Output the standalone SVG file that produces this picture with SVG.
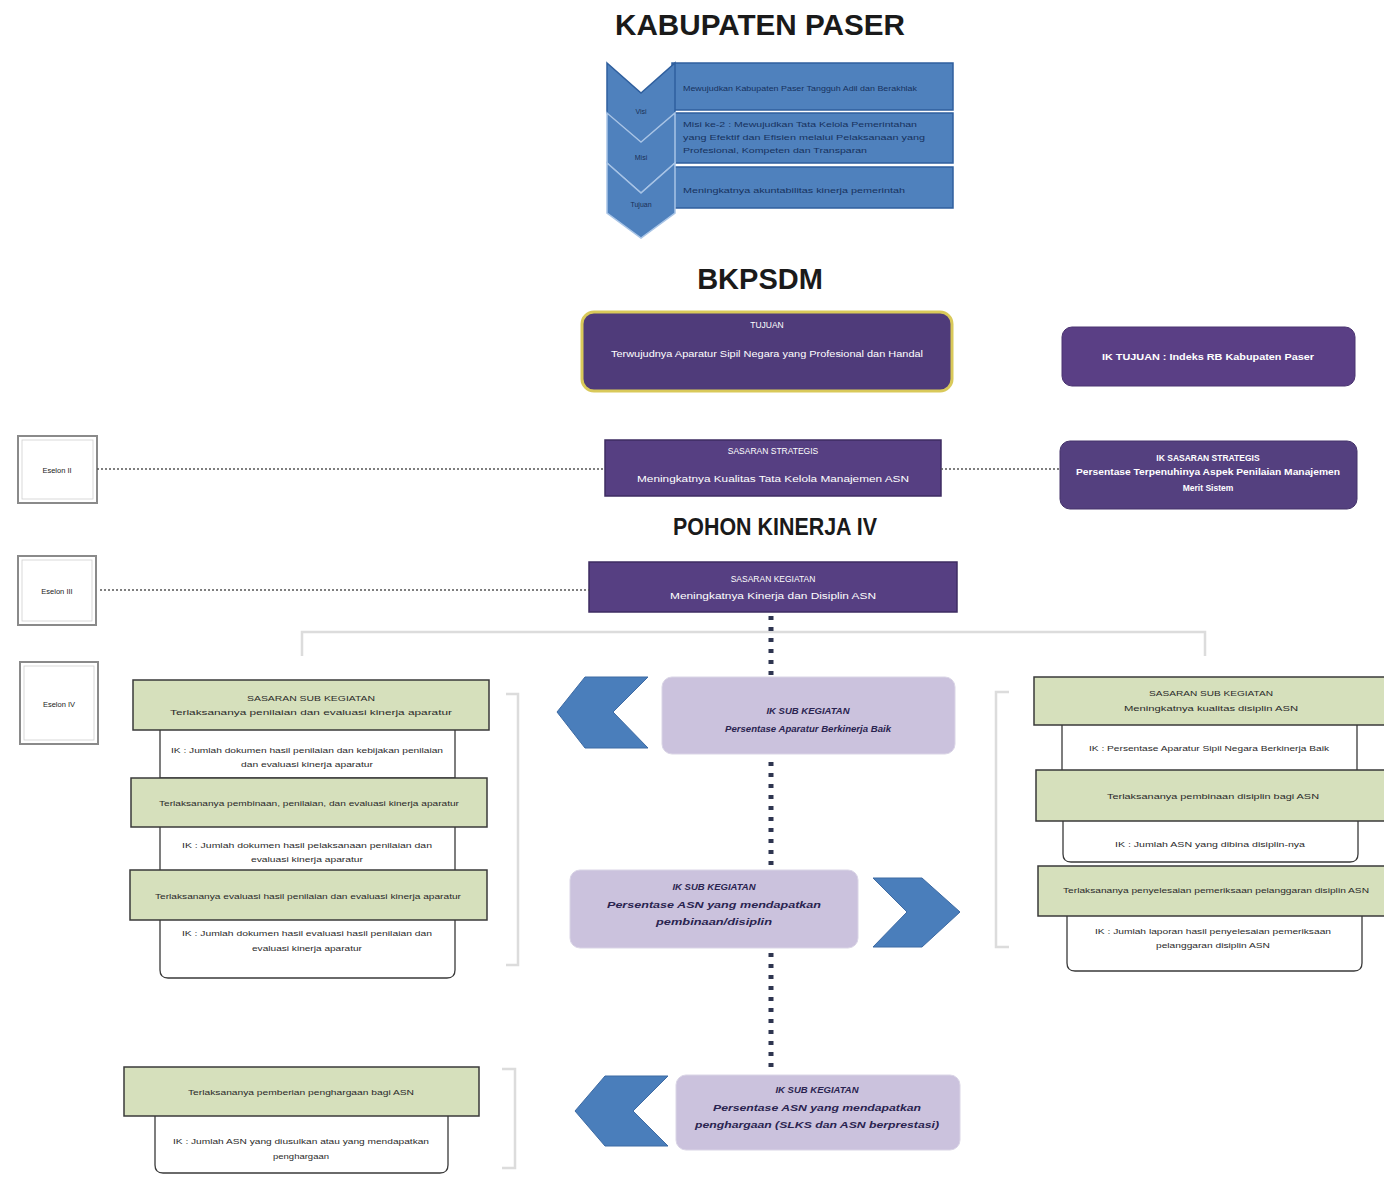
<svg xmlns="http://www.w3.org/2000/svg" width="1384" height="1177" viewBox="0 0 1384 1177">
<style>
text{font-family:"Liberation Sans",Arial,sans-serif}
.title{font-weight:bold;fill:#1a1a1a;text-anchor:middle}
.blue{fill:#4f81bd;stroke:#2f5f9e;stroke-width:1.5}
.btxt{font-size:8px;fill:#17325e}
.ctxt{font-size:7px;fill:#1a2f55;text-anchor:middle}
.purple{fill:#563f82;stroke:#3e2d62;stroke-width:1.5}
.wtxt{font-size:8.5px;fill:#ffffff;text-anchor:middle}
.wbold{font-size:8.5px;fill:#ffffff;text-anchor:middle;font-weight:bold}
.esel{fill:#ffffff;stroke:#8a8a8a;stroke-width:2}
.esel2{fill:none;stroke:#cfcfcf;stroke-width:0.8}
.etxt{font-size:7.5px;fill:#222;text-anchor:middle}
.green{fill:#d6e0bc;stroke:#3a3a3a;stroke-width:1.5}
.white{fill:#ffffff;stroke:#3a3a3a;stroke-width:1.3}
.gtxt{font-size:8px;fill:#2a2a2a;text-anchor:middle}
.lav{fill:#cbc2dd;stroke:#dad5e6;stroke-width:1}
.ltxt{font-size:9.5px;fill:#2a2450;text-anchor:middle;font-weight:bold;font-style:italic}
.chev{fill:#4a7ebb;stroke:#3d6aa3;stroke-width:1}
.dotted{stroke:#555;stroke-width:1.4;stroke-dasharray:2 2;fill:none}
.vdot{stroke:#2e3550;stroke-width:5;stroke-dasharray:4 7;fill:none}
.brk{stroke:#dcdcdc;stroke-width:2.5;fill:none}
</style>

<text class="title" x="760" y="35" font-size="30" textLength="290" lengthAdjust="spacingAndGlyphs">KABUPATEN PASER</text>

<g id="visi-misi">
  <rect class="blue" x="672" y="63" width="281" height="47"/>
  <rect class="blue" x="672" y="113" width="281" height="50"/>
  <rect class="blue" x="672" y="167" width="281" height="41"/>
  <polygon class="blue" points="607,63 641,93 675,63 675,113 641,142 607,113"/>
  <polygon class="blue" points="607,113 641,142 675,113 675,163 641,193 607,163" style="stroke:#a8c4e6"/>
  <polygon class="blue" points="607,163 641,193 675,163 675,213 641,238 607,213" style="stroke:#a8c4e6"/>
  <text class="ctxt" x="641" y="114">Visi</text>
  <text class="ctxt" x="641" y="160">Misi</text>
  <text class="ctxt" x="641" y="207">Tujuan</text>
  <text class="btxt" x="683" y="91" textLength="234" lengthAdjust="spacingAndGlyphs">Mewujudkan Kabupaten Paser Tangguh Adil dan Berakhlak</text>
  <text class="btxt" x="683" y="127" textLength="234" lengthAdjust="spacingAndGlyphs">Misi ke-2 : Mewujudkan Tata Kelola Pemerintahan</text>
  <text class="btxt" x="683" y="140" textLength="242" lengthAdjust="spacingAndGlyphs">yang Efektif dan Efisien melalui Pelaksanaan yang</text>
  <text class="btxt" x="683" y="153" textLength="184" lengthAdjust="spacingAndGlyphs">Profesional, Kompeten dan Transparan</text>
  <text class="btxt" x="683" y="193" textLength="222" lengthAdjust="spacingAndGlyphs">Meningkatnya akuntabilitas kinerja pemerintah</text>
</g>

<text class="title" x="760" y="289" font-size="29">BKPSDM</text>

<g id="tujuan">
  <rect x="582" y="312" width="370" height="79" rx="12" fill="#4f3b7a" stroke="#d9c95a" stroke-width="3"/>
  <text class="wtxt" x="767" y="328">TUJUAN</text>
  <text class="wtxt" x="767" y="357" textLength="312" lengthAdjust="spacingAndGlyphs">Terwujudnya Aparatur Sipil Negara yang Profesional dan Handal</text>
</g>

<g id="ik-tujuan">
  <rect x="1062" y="327" width="293" height="59" rx="10" fill="#5a3f85" stroke="#4a3470" stroke-width="1"/>
  <text class="wbold" x="1208" y="360" textLength="212" lengthAdjust="spacingAndGlyphs">IK TUJUAN : Indeks RB Kabupaten Paser</text>
</g>

<g id="eselon-ii">
  <rect class="esel" x="18" y="436" width="79" height="67"/>
  <rect class="esel2" x="22" y="440" width="71" height="59"/>
  <text class="etxt" x="57" y="473">Eselon II</text>
</g>

<g id="sasaran-strategis">
  <rect class="purple" x="605" y="440" width="336" height="56"/>
  <text class="wtxt" x="773" y="454">SASARAN STRATEGIS</text>
  <text class="wtxt" x="773" y="482" textLength="272" lengthAdjust="spacingAndGlyphs">Meningkatnya Kualitas Tata Kelola Manajemen ASN</text>
</g>

<g id="ik-sasaran-strategis">
  <rect x="1060" y="441" width="297" height="68" rx="10" fill="#54407f" stroke="#44336a" stroke-width="1"/>
  <text class="wbold" x="1208" y="461">IK SASARAN STRATEGIS</text>
  <text class="wbold" x="1208" y="475" textLength="264" lengthAdjust="spacingAndGlyphs">Persentase Terpenuhinya Aspek Penilaian Manajemen</text>
  <text class="wbold" x="1208" y="491">Merit Sistem</text>
</g>

<text class="title" x="775" y="535" font-size="24" textLength="204" lengthAdjust="spacingAndGlyphs">POHON KINERJA IV</text>

<g id="eselon-iii">
  <rect class="esel" x="18" y="556" width="78" height="69"/>
  <rect class="esel2" x="22" y="560" width="70" height="61"/>
  <text class="etxt" x="57" y="594">Eselon III</text>
</g>

<g id="sasaran-kegiatan">
  <rect class="purple" x="589" y="562" width="368" height="50"/>
  <text class="wtxt" x="773" y="582">SASARAN KEGIATAN</text>
  <text class="wtxt" x="773" y="599" textLength="206" lengthAdjust="spacingAndGlyphs">Meningkatnya Kinerja dan Disiplin ASN</text>
</g>

<g id="eselon-iv">
  <rect class="esel" x="20" y="662" width="78" height="82"/>
  <rect class="esel2" x="24" y="666" width="70" height="74"/>
  <text class="etxt" x="59" y="707">Eselon IV</text>
</g>

<g id="connectors">
  <line class="dotted" x1="97" y1="469" x2="605" y2="469"/>
  <line class="dotted" x1="941" y1="469" x2="1060" y2="469"/>
  <line class="dotted" x1="100" y1="590" x2="589" y2="590"/>
  <polyline class="brk" points="302,656 302,632 1205,632 1205,656"/>
  <line class="vdot" x1="771" y1="616" x2="771" y2="676"/>
  <line class="vdot" x1="771" y1="762" x2="771" y2="870"/>
  <line class="vdot" x1="771" y1="953" x2="771" y2="1072"/>
  <polyline class="brk" points="506,694 518,694 518,965 506,965"/>
  <polyline class="brk" points="1009,692 996,692 996,947 1009,947"/>
  <polyline class="brk" points="502,1069 515,1069 515,1168 502,1168"/>
</g>

<g id="left-column">
  <rect class="white" x="160" y="729" width="295" height="49"/>
  <rect class="white" x="160" y="826" width="295" height="45"/>
  <path class="white" d="M160,918 H455 V970 Q455,978 447,978 H168 Q160,978 160,970 Z"/>
  <rect class="green" x="133" y="680" width="356" height="50"/>
  <rect class="green" x="131" y="778" width="356" height="49"/>
  <rect class="green" x="130" y="870" width="357" height="50"/>
  <text class="gtxt" x="311" y="701" textLength="128" lengthAdjust="spacingAndGlyphs">SASARAN SUB KEGIATAN</text>
  <text class="gtxt" x="311" y="715" textLength="282" lengthAdjust="spacingAndGlyphs">Terlaksananya penilaian dan evaluasi kinerja aparatur</text>
  <text class="gtxt" x="307" y="753" textLength="272" lengthAdjust="spacingAndGlyphs">IK : Jumlah dokumen hasil penilaian dan kebijakan penilaian</text>
  <text class="gtxt" x="307" y="767" textLength="132" lengthAdjust="spacingAndGlyphs">dan evaluasi kinerja aparatur</text>
  <text class="gtxt" x="309" y="806" textLength="300" lengthAdjust="spacingAndGlyphs">Terlaksananya pembinaan, penilaian, dan evaluasi kinerja aparatur</text>
  <text class="gtxt" x="307" y="848" textLength="250" lengthAdjust="spacingAndGlyphs">IK : Jumlah dokumen hasil pelaksanaan penilaian dan</text>
  <text class="gtxt" x="307" y="862" textLength="112" lengthAdjust="spacingAndGlyphs">evaluasi kinerja aparatur</text>
  <text class="gtxt" x="308" y="899" textLength="306" lengthAdjust="spacingAndGlyphs">Terlaksananya evaluasi hasil penilaian dan evaluasi kinerja aparatur</text>
  <text class="gtxt" x="307" y="936" textLength="250" lengthAdjust="spacingAndGlyphs">IK : Jumlah dokumen hasil evaluasi hasil penilaian dan</text>
  <text class="gtxt" x="307" y="951" textLength="110" lengthAdjust="spacingAndGlyphs">evaluasi kinerja aparatur</text>
</g>

<g id="ik-sub-1">
  <polygon class="chev" points="585,677 648,677 613,712 648,748 585,748 557,712"/>
  <rect class="lav" x="662" y="677" width="293" height="77" rx="10"/>
  <text class="ltxt" x="808" y="714">IK SUB KEGIATAN</text>
  <text class="ltxt" x="808" y="732" textLength="166" lengthAdjust="spacingAndGlyphs">Persentase Aparatur Berkinerja Baik</text>
</g>

<g id="ik-sub-2">
  <rect class="lav" x="570" y="870" width="288" height="78" rx="10"/>
  <polygon class="chev" points="873,878 922,878 960,912 922,947 873,947 907,912"/>
  <text class="ltxt" x="714" y="890">IK SUB KEGIATAN</text>
  <text class="ltxt" x="714" y="908" textLength="214" lengthAdjust="spacingAndGlyphs">Persentase ASN yang mendapatkan</text>
  <text class="ltxt" x="714" y="925" textLength="116" lengthAdjust="spacingAndGlyphs">pembinaan/disiplin</text>
</g>

<g id="right-column">
  <rect class="white" x="1062" y="723" width="295" height="48"/>
  <path class="white" d="M1063,820 H1358 V854 Q1358,862 1350,862 H1071 Q1063,862 1063,854 Z"/>
  <path class="white" d="M1067,915 H1362 V963 Q1362,971 1354,971 H1075 Q1067,971 1067,963 Z"/>
  <rect class="green" x="1034" y="677" width="355" height="48"/>
  <rect class="green" x="1036" y="770" width="353" height="51"/>
  <rect class="green" x="1038" y="866" width="351" height="50"/>
  <text class="gtxt" x="1211" y="696" textLength="124" lengthAdjust="spacingAndGlyphs">SASARAN SUB KEGIATAN</text>
  <text class="gtxt" x="1211" y="711" textLength="174" lengthAdjust="spacingAndGlyphs">Meningkatnya kualitas disiplin ASN</text>
  <text class="gtxt" x="1209" y="751" textLength="240" lengthAdjust="spacingAndGlyphs">IK : Persentase Aparatur Sipil Negara Berkinerja Baik</text>
  <text class="gtxt" x="1213" y="799" textLength="212" lengthAdjust="spacingAndGlyphs">Terlaksananya pembinaan disiplin bagi ASN</text>
  <text class="gtxt" x="1210" y="847" textLength="190" lengthAdjust="spacingAndGlyphs">IK : Jumlah ASN yang dibina disiplin-nya</text>
  <text class="gtxt" x="1216" y="893" textLength="306" lengthAdjust="spacingAndGlyphs">Terlaksananya penyelesaian pemeriksaan pelanggaran disiplin ASN</text>
  <text class="gtxt" x="1213" y="934" textLength="236" lengthAdjust="spacingAndGlyphs">IK : Jumlah laporan hasil penyelesaian pemeriksaan</text>
  <text class="gtxt" x="1213" y="948" textLength="114" lengthAdjust="spacingAndGlyphs">pelanggaran disiplin ASN</text>
</g>

<g id="ik-sub-3">
  <polygon class="chev" points="605,1076 668,1076 633,1111 668,1146 605,1146 575,1111"/>
  <rect class="lav" x="676" y="1075" width="284" height="75" rx="10"/>
  <text class="ltxt" x="817" y="1093">IK SUB KEGIATAN</text>
  <text class="ltxt" x="817" y="1111" textLength="208" lengthAdjust="spacingAndGlyphs">Persentase ASN yang mendapatkan</text>
  <text class="ltxt" x="817" y="1128" textLength="244" lengthAdjust="spacingAndGlyphs">penghargaan (SLKS dan ASN berprestasi)</text>
</g>

<g id="bottom-left">
  <path class="white" d="M155,1114 H448 V1165 Q448,1173 440,1173 H163 Q155,1173 155,1165 Z"/>
  <rect class="green" x="124" y="1067" width="355" height="49"/>
  <text class="gtxt" x="301" y="1095" textLength="226" lengthAdjust="spacingAndGlyphs">Terlaksananya pemberian penghargaan bagi ASN</text>
  <text class="gtxt" x="301" y="1144" textLength="256" lengthAdjust="spacingAndGlyphs">IK : Jumlah ASN yang diusulkan atau yang mendapatkan</text>
  <text class="gtxt" x="301" y="1159" textLength="56" lengthAdjust="spacingAndGlyphs">penghargaan</text>
</g>
</svg>
